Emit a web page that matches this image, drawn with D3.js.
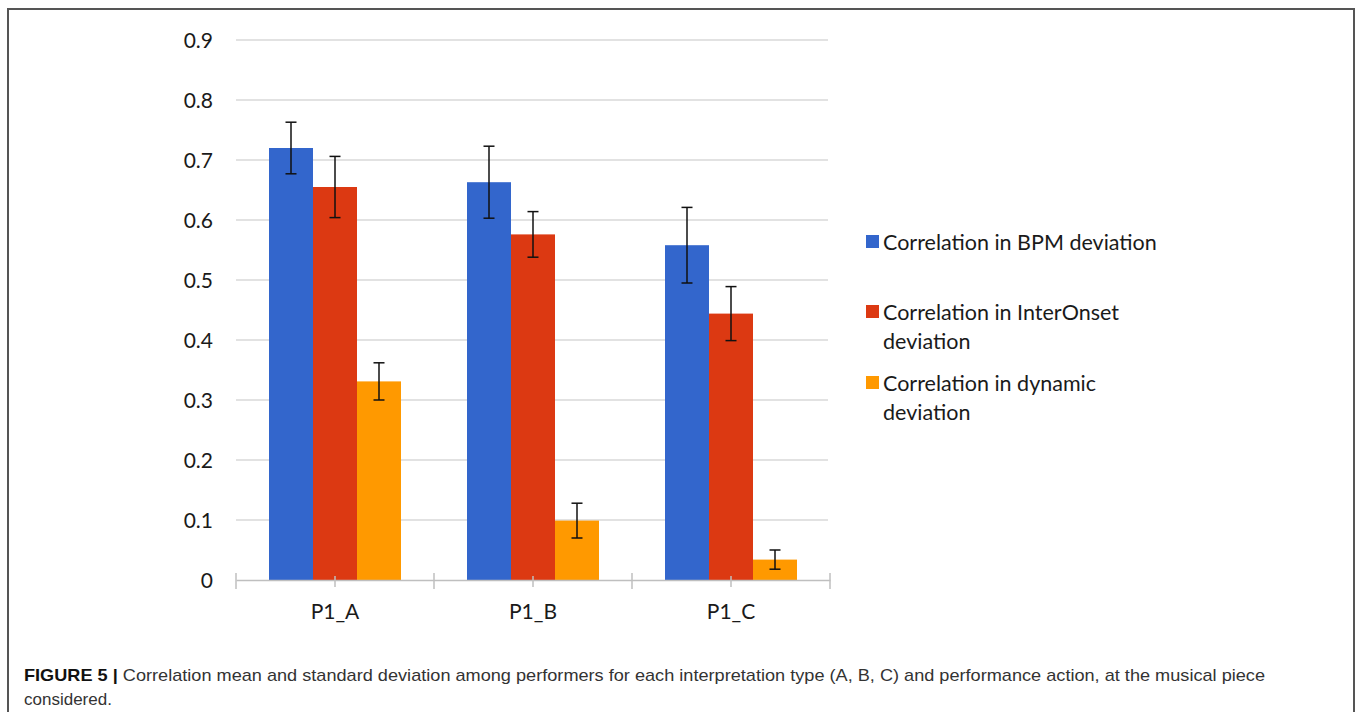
<!DOCTYPE html>
<html>
<head>
<meta charset="utf-8">
<script src="https://cdn.jsdelivr.net/npm/d3@7"></script>
<style>
  html, body { margin: 0; padding: 0; background: #fff; }
  svg { display: block; }
</style>
</head>
<body>
<svg id="chart" width="1358" height="712"></svg>
<script>
const categories = ["P1_A", "P1_B", "P1_C"];
const seriesNames = ["Correlation in BPM deviation", "Correlation in InterOnset deviation", "Correlation in dynamic deviation"];
const legendLines = [["Correlation in BPM deviation"], ["Correlation in InterOnset", "deviation"], ["Correlation in dynamic", "deviation"]];
const bpmMean = [0.72, 0.663, 0.558];
const bpmSd = [0.043, 0.06, 0.063];
const interOnsetMean = [0.655, 0.576, 0.444];
const interOnsetSd = [0.051, 0.038, 0.045];
const dynamicMean = [0.331, 0.099, 0.034];
const dynamicSd = [0.031, 0.029, 0.016];
const yTicks = [0, 0.1, 0.2, 0.3, 0.4, 0.5, 0.6, 0.7, 0.8, 0.9];
const colors = ["#3366cc", "#dc3912", "#ff9900"];
const captionBold = "FIGURE 5 | ";
const captionLine1 = "Correlation mean and standard deviation among performers for each interpretation type (A, B, C) and performance action, at the musical piece";
const captionLine2 = "considered.";

const means = [bpmMean, interOnsetMean, dynamicMean];
const sds = [bpmSd, interOnsetSd, dynamicSd];
const data = [];
categories.forEach((c, i) => {
  seriesNames.forEach((s, j) => {
    data.push({cat: c, series: j, mean: means[j][i], sd: sds[j][i]});
  });
});

const svg = d3.select("#chart");
const font = "Lato, 'Open Sans', sans-serif";

// frame
svg.append("path")
  .attr("d", "M8,740 L8,9 L1354,9 L1354,740")
  .attr("fill", "none").attr("stroke", "#555").attr("stroke-width", 2);

const x0 = d3.scaleBand().domain(categories).range([236, 830]).paddingInner(0).paddingOuter(0);
const x1 = d3.scaleBand().domain([0, 1, 2]).range([0, x0.bandwidth()]).paddingInner(0).paddingOuter(0.75);
const y = d3.scaleLinear().domain([0, 0.9]).range([580, 40]);

// gridlines
svg.append("g").selectAll("line").data(yTicks.filter(t => t > 0)).join("line")
  .attr("x1", 236).attr("x2", 828)
  .attr("y1", d => y(d)).attr("y2", d => y(d))
  .attr("stroke", "#d9d9d9").attr("stroke-width", 1.5);

// y labels
const yAxis = d3.axisLeft(y).tickValues(yTicks).tickSize(0).tickPadding(0)
  .tickFormat(d => d === 0 ? "0" : d3.format(".1f")(d));
const yg = svg.append("g").attr("transform", "translate(213,0)").call(yAxis);
yg.select(".domain").remove();
yg.selectAll("text").attr("font-family", font).attr("font-size", 21).attr("fill", "#1a1a1a").attr("dy", "0.35em");

// bars
svg.append("g").selectAll("rect").data(data).join("rect")
  .attr("x", d => x0(d.cat) + x1(d.series))
  .attr("width", x1.bandwidth())
  .attr("y", d => y(d.mean))
  .attr("height", d => y(0) - y(d.mean))
  .attr("fill", d => colors[d.series]);

// x axis
const xAxis = d3.axisBottom(x0).tickSize(0).tickPadding(0);
const xg = svg.append("g").attr("transform", "translate(0,580)").call(xAxis);
xg.select(".domain").attr("stroke", "#bfbfbf").attr("stroke-width", 1.5);
xg.selectAll("text").attr("font-family", font).attr("font-size", 21).attr("fill", "#1a1a1a").attr("dy", "0.35em").attr("y", 32);
// boundary ticks
const bounds = categories.map(c => x0(c)).concat([x0.range()[1]]);
svg.append("g").selectAll("line").data(bounds).join("line")
  .attr("x1", d => d).attr("x2", d => d).attr("y1", 573).attr("y2", 589)
  .attr("stroke", "#bfbfbf").attr("stroke-width", 1.5);
svg.append("g").selectAll("line").data(categories).join("line")
  .attr("x1", d => x0(d) + x0.bandwidth() / 2).attr("x2", d => x0(d) + x0.bandwidth() / 2)
  .attr("y1", 576).attr("y2", 587)
  .attr("stroke", "#bfbfbf").attr("stroke-width", 1.5);

// error bars
const eg = svg.append("g").attr("stroke", "#111").attr("stroke-width", 1.5);
data.forEach(d => {
  const cx = x0(d.cat) + x1(d.series) + x1.bandwidth() / 2;
  const yt = y(d.mean + d.sd), yb = y(d.mean - d.sd);
  eg.append("line").attr("x1", cx).attr("x2", cx).attr("y1", yt).attr("y2", yb);
  eg.append("line").attr("x1", cx - 5.5).attr("x2", cx + 5.5).attr("y1", yt).attr("y2", yt);
  eg.append("line").attr("x1", cx - 5.5).attr("x2", cx + 5.5).attr("y1", yb).attr("y2", yb);
});

// legend
const legendY = [242, 312, 383];
const lg = svg.append("g");
legendLines.forEach((lines, i) => {
  lg.append("rect").attr("x", 866).attr("y", legendY[i] - 7).attr("width", 13).attr("height", 13).attr("fill", colors[i]);
  lines.forEach((t, k) => {
    lg.append("text").attr("x", 883).attr("y", legendY[i] + k * 29)
      .attr("dy", "0.35em").attr("font-family", font).attr("font-size", 21.5).attr("fill", "#1a1a1a").text(t);
  });
});

// caption
const cap = svg.append("text").attr("x", 24).attr("y", 681)
  .attr("font-family", "'Liberation Sans Narrow', 'Liberation Sans', Arial, sans-serif").attr("font-size", 17);
cap.append("tspan").attr("font-weight", "bold").attr("fill", "#111").text(captionBold);
cap.append("tspan").attr("fill", "#333").text(captionLine1);
cap.attr("textLength", 1241).attr("lengthAdjust", "spacingAndGlyphs");
svg.append("text").attr("x", 24).attr("y", 705)
  .attr("font-family", "'Liberation Sans Narrow', 'Liberation Sans', Arial, sans-serif").attr("font-size", 17)
  .attr("fill", "#333").text(captionLine2);
</script>
</body>
</html>
